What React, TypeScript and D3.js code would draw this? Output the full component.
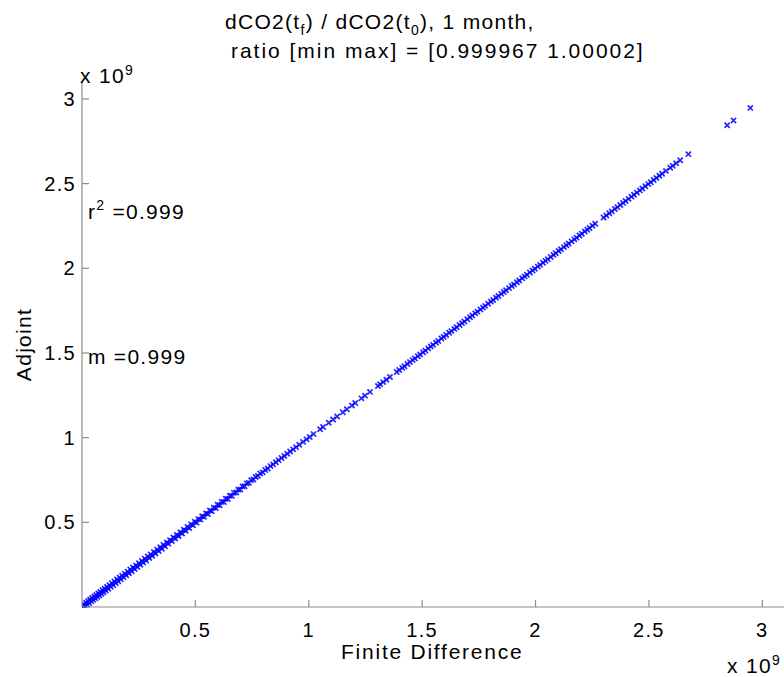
import React from 'react';
import * as d3 from 'd3';

// values in units of 1e9, [finite difference, adjoint]
const denseRun: [number, number][] = [
  [0.000, 0.008], [0.004, -0.004], [0.009, 0.017], [0.013, 0.005], [0.018, 0.026], [0.022, 0.014],
  [0.027, 0.035], [0.031, 0.023], [0.036, 0.044], [0.041, 0.033], [0.045, 0.053], [0.050, 0.042],
  [0.054, 0.062], [0.059, 0.051], [0.063, 0.071], [0.068, 0.060], [0.072, 0.080], [0.077, 0.069],
  [0.081, 0.089], [0.086, 0.078], [0.091, 0.099], [0.095, 0.087], [0.100, 0.108], [0.105, 0.097],
  [0.110, 0.118], [0.116, 0.108], [0.121, 0.129], [0.127, 0.119], [0.132, 0.140], [0.138, 0.130],
  [0.143, 0.151], [0.149, 0.141], [0.154, 0.162], [0.160, 0.152], [0.166, 0.174], [0.171, 0.163],
  [0.177, 0.185], [0.183, 0.175], [0.189, 0.197], [0.195, 0.187], [0.201, 0.209], [0.207, 0.199],
  [0.213, 0.221], [0.219, 0.211], [0.225, 0.233], [0.232, 0.224], [0.238, 0.246], [0.244, 0.236],
  [0.251, 0.259], [0.257, 0.249], [0.264, 0.272], [0.270, 0.262], [0.277, 0.285], [0.283, 0.275],
  [0.290, 0.298], [0.297, 0.289], [0.303, 0.311], [0.310, 0.302], [0.317, 0.325], [0.324, 0.316],
  [0.331, 0.339], [0.338, 0.330], [0.345, 0.353], [0.352, 0.344], [0.359, 0.367], [0.366, 0.358],
  [0.374, 0.381], [0.381, 0.374], [0.388, 0.395], [0.396, 0.389], [0.403, 0.410], [0.411, 0.404],
  [0.418, 0.425], [0.426, 0.419], [0.434, 0.441], [0.441, 0.434], [0.449, 0.456], [0.457, 0.450],
  [0.465, 0.472], [0.473, 0.466], [0.481, 0.488], [0.489, 0.482], [0.497, 0.504], [0.505, 0.498],
  [0.513, 0.519], [0.522, 0.516], [0.530, 0.536], [0.538, 0.532], [0.547, 0.553], [0.555, 0.549],
  [0.564, 0.570], [0.572, 0.566], [0.581, 0.587], [0.590, 0.584], [0.598, 0.604], [0.607, 0.601],
  [0.616, 0.621], [0.625, 0.620], [0.634, 0.639], [0.643, 0.638], [0.652, 0.657], [0.661, 0.656],
  [0.670, 0.674], [0.680, 0.676], [0.689, 0.693], [0.698, 0.694], [0.708, 0.712], [0.717, 0.713],
  [0.727, 0.730], [0.736, 0.733], [0.746, 0.749], [0.756, 0.753], [0.766, 0.768], [0.776, 0.774],
  [0.786, 0.788], [0.797, 0.795], [0.808, 0.809], [0.819, 0.818], [0.831, 0.832], [0.843, 0.842],
  [0.855, 0.855], [0.867, 0.867], [0.880, 0.880], [0.892, 0.892], [0.905, 0.905], [0.918, 0.918],
];

const sparseRun: [number, number][] = [
  [0.931, 0.931], [0.944, 0.944], [0.958, 0.958], [0.975, 0.975], [0.990, 0.990], [1.004, 1.004],
  [1.021, 1.021], [1.050, 1.050], [1.063, 1.063], [1.088, 1.088], [1.107, 1.107], [1.125, 1.125],
  [1.150, 1.150], [1.168, 1.168], [1.190, 1.190], [1.205, 1.205], [1.232, 1.232], [1.248, 1.248],
  [1.270, 1.270], [1.305, 1.305], [1.315, 1.315], [1.328, 1.328], [1.342, 1.342], [1.358, 1.358],
];

const middleRun: [number, number][] = [
  [1.388, 1.388], [1.399, 1.399], [1.412, 1.412], [1.422, 1.422], [1.435, 1.435], [1.446, 1.446],
  [1.458, 1.458], [1.468, 1.468], [1.481, 1.481], [1.491, 1.491], [1.504, 1.504], [1.514, 1.514],
  [1.527, 1.527], [1.538, 1.538], [1.548, 1.548], [1.561, 1.561], [1.571, 1.571], [1.585, 1.585],
  [1.595, 1.595], [1.606, 1.606], [1.619, 1.619], [1.629, 1.629], [1.642, 1.642], [1.652, 1.652],
  [1.665, 1.665], [1.676, 1.676], [1.686, 1.686], [1.699, 1.699], [1.711, 1.711], [1.721, 1.721],
  [1.734, 1.734], [1.744, 1.744], [1.757, 1.757], [1.768, 1.768], [1.778, 1.778], [1.791, 1.791],
  [1.803, 1.803], [1.813, 1.813], [1.826, 1.826], [1.836, 1.836], [1.849, 1.849], [1.860, 1.860],
  [1.870, 1.870], [1.883, 1.883], [1.895, 1.895], [1.905, 1.905], [1.918, 1.918], [1.928, 1.928],
  [1.941, 1.941], [1.952, 1.952], [1.962, 1.962], [1.975, 1.975], [1.987, 1.987], [1.997, 1.997],
  [2.010, 2.010], [2.020, 2.020], [2.033, 2.033], [2.044, 2.044], [2.054, 2.054], [2.067, 2.067],
  [2.079, 2.079], [2.089, 2.089], [2.102, 2.102], [2.112, 2.112], [2.125, 2.125], [2.136, 2.136],
  [2.146, 2.146], [2.159, 2.159], [2.171, 2.171], [2.181, 2.181], [2.194, 2.194], [2.204, 2.204],
  [2.217, 2.217], [2.228, 2.228], [2.238, 2.238], [2.251, 2.251], [2.263, 2.263],
];

const upperRun: [number, number][] = [
  [2.300, 2.300], [2.312, 2.312], [2.325, 2.325], [2.336, 2.336], [2.350, 2.350], [2.361, 2.361],
  [2.374, 2.374], [2.386, 2.386], [2.397, 2.397], [2.410, 2.410], [2.423, 2.423], [2.434, 2.434],
  [2.447, 2.447], [2.460, 2.460], [2.471, 2.471], [2.484, 2.484], [2.497, 2.497], [2.508, 2.508],
  [2.521, 2.521], [2.533, 2.533], [2.546, 2.546], [2.558, 2.558], [2.575, 2.575], [2.594, 2.594],
  [2.605, 2.605], [2.620, 2.620], [2.638, 2.638], [2.674, 2.674],
];

const outliers: [number, number][] = [
  [2.845, 2.845], [2.873, 2.873], [2.947, 2.947],
];

const tickValues = [0.5, 1, 1.5, 2, 2.5, 3];
const tickLabels = ['0.5', '1', '1.5', '2', '2.5', '3'];

const fitR2 = '0.999';
const fitSlope = '0.999';
const ratioMin = '0.999967';
const ratioMax = '1.00002';

const W = 784;
const H = 677;
const E9 = 1e9;
const font = '"Liberation Sans", Arial, Helvetica, sans-serif';
const axisColor = '#8c8c8c';

export default function App() {
  const xScale = d3.scaleLinear().domain([0, 3.1 * E9]).range([82, 785]);
  const yScale = d3.scaleLinear().domain([0, 3.1 * E9]).range([607, 82]);

  const points = [...denseRun, ...sparseRun, ...middleRun, ...upperRun, ...outliers];
  const m = 2.6;

  const txt = { fontFamily: font, fontSize: 21, letterSpacing: 1.3, fill: '#000' };

  return (
    <svg
      width={W}
      height={H}
      style={{ position: 'absolute', left: 0, top: 0, background: '#fff' }}
    >
      <rect width={W} height={H} fill="#fff" />

      {/* data: 'x' markers, clipped to the axes box */}
      <clipPath id="plotArea">
        <rect x={xScale(0)} y={yScale(3.1 * E9)} width={xScale(3.1 * E9) - xScale(0)} height={yScale(0) - yScale(3.1 * E9) + 1} />
      </clipPath>
      <g stroke="#0000ff" strokeWidth={1.7} fill="none" strokeOpacity={0.85} clipPath="url(#plotArea)">
        {points.map(([fd, adj], i) => {
          const cx = xScale(fd * E9);
          const cy = yScale(adj * E9);
          return (
            <path
              key={i}
              d={`M${cx - m},${cy - m}L${cx + m},${cy + m}M${cx - m},${cy + m}L${cx + m},${cy - m}`}
            />
          );
        })}
      </g>

      {/* axes */}
      <g stroke={axisColor} strokeWidth={1.2}>
        <line x1={xScale(0)} x2={xScale(3.1 * E9)} y1={yScale(0)} y2={yScale(0)} />
        <line x1={xScale(0)} x2={xScale(0)} y1={yScale(0)} y2={yScale(3.1 * E9)} />
        {tickValues.map((t) => (
          <line key={'xt' + t} x1={xScale(t * E9)} x2={xScale(t * E9)} y1={yScale(0)} y2={yScale(0) - 7} />
        ))}
        {tickValues.map((t) => (
          <line key={'yt' + t} x1={xScale(0)} x2={xScale(0) + 7} y1={yScale(t * E9)} y2={yScale(t * E9)} />
        ))}
      </g>

      {/* tick labels */}
      {tickValues.map((t, i) => (
        <text key={'xl' + t} {...txt} fontSize={20} x={xScale(t * E9)} y={637} textAnchor="middle">
          {tickLabels[i]}
        </text>
      ))}
      {tickValues.map((t, i) => (
        <text key={'yl' + t} {...txt} fontSize={20} x={76} y={yScale(t * E9) + 7} textAnchor="end">
          {tickLabels[i]}
        </text>
      ))}

      {/* exponent labels */}
      <text {...txt} x={80} y={83}>
        x 10<tspan fontSize={14} dy={-8}>9</tspan>
      </text>
      <text {...txt} x={727} y={673}>
        x 10<tspan fontSize={14} dy={-8}>9</tspan>
      </text>

      {/* axis titles */}
      <text {...txt} x={341} y={659} textLength={182} lengthAdjust="spacing">Finite Difference</text>
      <text {...txt} transform={`translate(31,${(82 + 607) / 2}) rotate(-90)`} textAnchor="middle">
        Adjoint
      </text>

      {/* title */}
      <text {...txt} x={225} y={29}>
        dCO2(t<tspan fontSize={14} dy={6}>f</tspan>
        <tspan dy={-6}>) / dCO2(t</tspan>
        <tspan fontSize={14} dy={6}>0</tspan>
        <tspan dy={-6}>), 1 month,</tspan>
      </text>
      <text {...txt} x={231} y={58} textLength={413} lengthAdjust="spacing">
        ratio [min max] = [{ratioMin} {ratioMax}]
      </text>

      {/* fit annotations */}
      <text {...txt} x={xScale(0.026 * E9)} y={yScale(2.29 * E9)}>
        r<tspan fontSize={14} dy={-9}>2</tspan>
        <tspan dy={9}> ={fitR2}</tspan>
      </text>
      <text {...txt} x={xScale(0.026 * E9)} y={yScale(1.435 * E9)}>
        m ={fitSlope}
      </text>
    </svg>
  );
}
